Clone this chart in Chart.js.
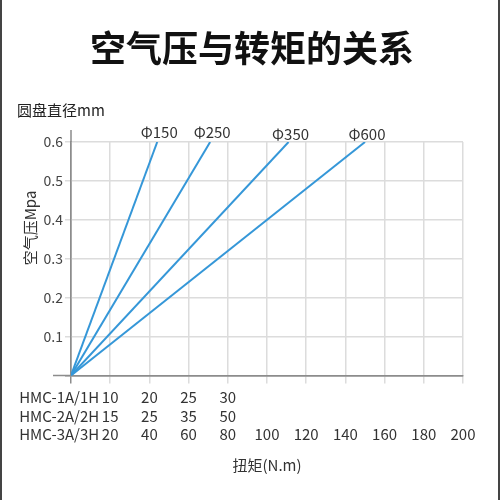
<!DOCTYPE html>
<html>
<head>
<meta charset="utf-8">
<script src="https://cdn.jsdelivr.net/npm/chart.js@4"></script>
<style>
  html, body { margin: 0; padding: 0; background: #fff; }
  #wrap { position: relative; width: 500px; height: 500px; }
  #wrap::before, #wrap::after {
    content: ""; position: absolute; top: 0; bottom: 0; width: 2px; background: #444;
  }
  #wrap::before { left: 0; }
  #wrap::after { right: 0; }
</style>
</head>
<body>
<div id="wrap"><canvas id="grafico" width="500" height="500"></canvas></div>
<script>
// dados
const titulo = "空气压与转矩的关系";
const tituloY = "空气压Mpa";
const diametros = ["Φ150", "Φ250", "Φ350", "Φ600"];
const torqueMax = [44, 71, 111, 150];   // escala HMC-3A/3H, em 0.6 Mpa
const pressaoMax = 0.6;

const modelos = ["HMC-1A/1H", "HMC-2A/2H", "HMC-3A/3H"];
const ticks1H = ["10", "20", "25", "30"];
const ticks2H = ["15", "25", "35", "50"];
const ticks3H = ["20", "40", "60", "80", "100", "120", "140", "160", "180", "200"];

const AZUL = "#3597d8";
const FONTE = "'Noto Sans CJK SC', 'Noto Sans', sans-serif";
const LINHA = 18.5; // altura de cada linha dos ticks do eixo x

// ---------------------------------------------------------
// Textos extras: título, eixo y, modelos, Φ no topo
// ---------------------------------------------------------
const extras = {
  id: "extras",
  afterDraw(chart) {
    const { ctx, chartArea, scales } = chart;
    ctx.save();

    // prolonga os eixos como no original
    ctx.strokeStyle = "#8c8c8c";
    ctx.lineWidth = 1.5;
    ctx.beginPath();
    ctx.moveTo(chartArea.left, chartArea.top - 12);
    ctx.lineTo(chartArea.left, chartArea.top);
    ctx.moveTo(chartArea.left - 18, chartArea.bottom);
    ctx.lineTo(chartArea.left, chartArea.bottom);
    ctx.stroke();

    // título centrado na página
    ctx.fillStyle = "#111";
    ctx.font = "bold 36px " + FONTE;
    ctx.textAlign = "center";
    ctx.textBaseline = "middle";
    ctx.fillText(titulo, 252, 48);

    // título do eixo y (girado)
    ctx.save();
    ctx.translate(30, 228);
    ctx.rotate(-Math.PI / 2);
    ctx.fillStyle = "#333";
    ctx.font = "15px " + FONTE;
    ctx.fillText(tituloY, 0, 0);
    ctx.restore();

    // nomes dos modelos à esquerda de cada linha de ticks
    ctx.fillStyle = "#333";
    ctx.font = "15px " + FONTE;
    ctx.textAlign = "right";
    ctx.textBaseline = "middle";
    const x0 = scales.x.getPixelForValue(20) - 11;
    const y0 = chartArea.bottom + 8 + 5 + LINHA / 2;
    modelos.forEach((m, i) => ctx.fillText(m, x0, y0 + i * LINHA));

    // Φ acima do fim de cada linha
    ctx.textAlign = "center";
    ctx.textBaseline = "bottom";
    chart.data.datasets.forEach((ds, i) => {
      const p = chart.getDatasetMeta(i).data[1];
      ctx.fillText(ds.label, p.x + 2, p.y - 2 + (i >= 2 ? 2 : 0));
    });
    ctx.restore();
  },
};

const corGrade = (c) => (c.tick && c.tick.value === 0 ? "#8c8c8c" : "#dcdcdc");

new Chart(document.getElementById("grafico"), {
  type: "line",
  data: {
    datasets: diametros.map((d, i) => ({
      label: d,
      data: [{ x: 0, y: 0 }, { x: torqueMax[i], y: pressaoMax }],
      borderColor: AZUL,
      borderWidth: 2,
      pointRadius: 0,
      tension: 0,
    })),
  },
  options: {
    responsive: false,
    animation: false,
    layout: { padding: { left: 17, right: 37, top: 101, bottom: 20 } },
    plugins: {
      legend: { display: false },
      tooltip: { enabled: false },
      subtitle: {
        display: true,
        text: "圆盘直径mm",
        align: "start",
        color: "#222",
        font: { family: FONTE, size: 15, lineHeight: 1.2 },
        padding: { top: 0, bottom: 23 },
      },
    },
    scales: {
      x: {
        type: "linear",
        min: 0,
        max: 200,
        border: { color: "#8c8c8c", width: 1.5 },
        grid: { color: corGrade, lineWidth: 1.5, tickLength: 8 },
        ticks: {
          stepSize: 20,
          maxRotation: 0,
          padding: 5,
          color: "#333",
          font: { family: FONTE, size: 15, lineHeight: LINHA / 15 },
          callback: (v) => {
            const k = Math.round(v / 20);
            if (k === 0) return ["", "", ""];
            return [ticks1H[k - 1] || "", ticks2H[k - 1] || "", ticks3H[k - 1] || ""];
          },
        },
        title: {
          display: true,
          text: "扭矩(N.m)",
          color: "#333",
          font: { family: FONTE, size: 15, lineHeight: 1.2 },
          padding: { top: 7, bottom: 6 },
        },
      },
      y: {
        min: 0,
        max: pressaoMax,
        afterFit: (s) => { s.width = 54; }, // espaço do título girado + ticks
        border: { color: "#8c8c8c", width: 1.5 },
        grid: { color: corGrade, lineWidth: 1.5, tickLength: 6 },
        ticks: {
          stepSize: 0.1,
          padding: 2,
          color: "#444",
          font: { family: FONTE, size: 14 },
          callback: (v) => (v === 0 ? "" : v.toFixed(1)),
        },
      },
    },
  },
  plugins: [extras],
});
</script>
</body>
</html>
